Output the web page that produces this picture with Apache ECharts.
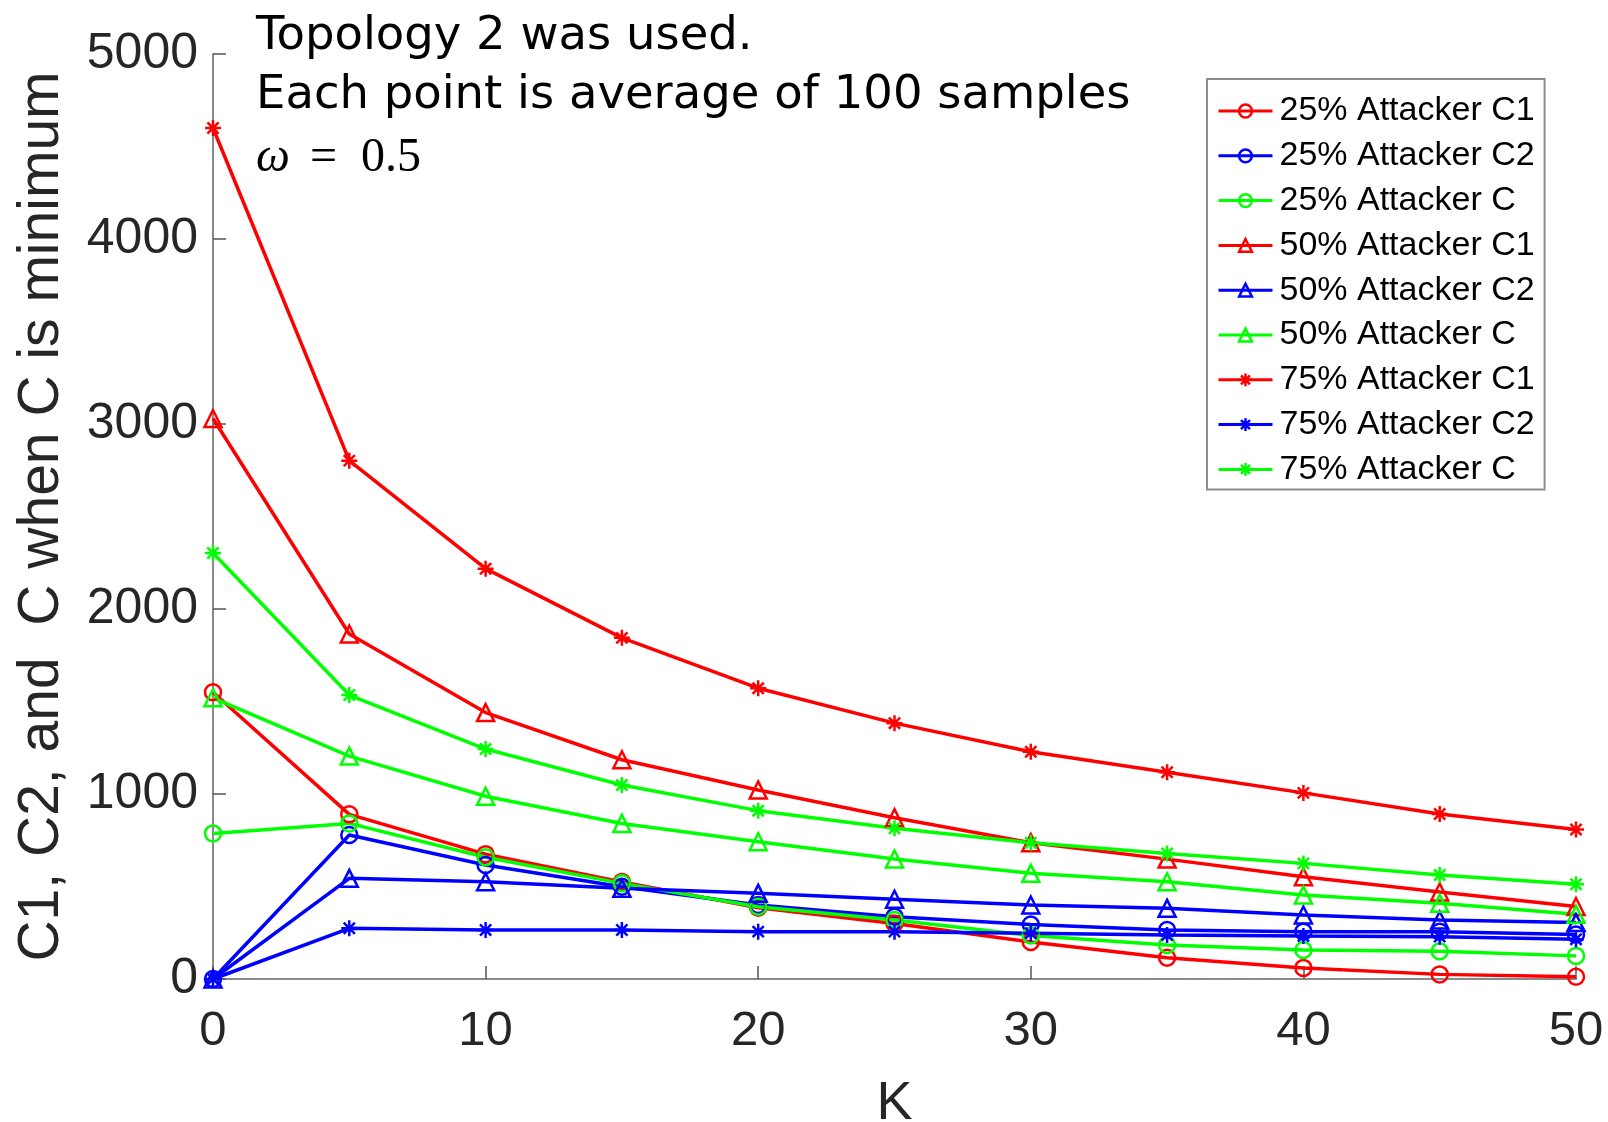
<!DOCTYPE html>
<html>
<head>
<meta charset="utf-8">
<script src="https://cdn.jsdelivr.net/npm/echarts@6/dist/echarts.min.js"></script>
<style>
  html, body { margin: 0; padding: 0; background: #fff; overflow: hidden; }
  #chart { width: 1608px; height: 1122px; }
</style>
</head>
<body>
<div id="chart"></div>
<script>
// K values on the x axis
const kValues = [0, 5, 10, 15, 20, 25, 30, 35, 40, 45, 50];

// Averages of C1, C2 and C at the K where C is minimum
const att25C1 = [1550, 890, 675, 525, 385, 300, 200, 115, 60, 25, 12];
const att25C2 = [0, 778, 616, 499, 400, 337, 295, 265, 256, 256, 240];
const att25C  = [787, 841, 658, 517, 391, 319, 235, 184, 157, 150, 125];
const att50C1 = [3030, 1865, 1440, 1185, 1022, 872, 737, 648, 553, 470, 392];
const att50C2 = [0, 544, 526, 490, 463, 431, 400, 382, 346, 319, 305];
const att50C  = [1520, 1205, 988, 841, 742, 649, 571, 526, 454, 409, 350];
const att75C1 = [4600, 2802, 2218, 1844, 1572, 1383, 1228, 1118, 1006, 892, 808];
const att75C2 = [0, 274, 265, 265, 256, 256, 247, 238, 232, 229, 215];
const att75C  = [2303, 1535, 1243, 1049, 910, 815, 737, 679, 625, 562, 512];

const yTicks = [0, 1000, 2000, 3000, 4000, 5000];
const xTicks = [0, 10, 20, 30, 40, 50];

const seriesNames = [
  '25% Attacker C1', '25% Attacker C2', '25% Attacker C',
  '50% Attacker C1', '50% Attacker C2', '50% Attacker C',
  '75% Attacker C1', '75% Attacker C2', '75% Attacker C'
];
const seriesData = [att25C1, att25C2, att25C, att50C1, att50C2, att50C, att75C1, att75C2, att75C];

const RED = '#ff0000', BLUE = '#0000ff', GREEN = '#00ff00';
const colors = [RED, BLUE, GREEN, RED, BLUE, GREEN, RED, BLUE, GREEN];

// MATLAB-style markers: hollow circle, hollow triangle, asterisk (+ combined with x)
const ASTERISK = 'path://M10,0 L10,20 M0,10 L20,10 M3,3 L17,17 M3,17 L17,3';
const markers = ['circle', 'circle', 'circle', 'triangle', 'triangle', 'triangle', ASTERISK, ASTERISK, ASTERISK];

const chart = echarts.init(document.getElementById('chart'), null, { renderer: 'canvas' });

const series = seriesNames.map((name, i) => ({
  name: name,
  type: 'line',
  data: kValues.map((k, j) => [k, seriesData[i][j]]),
  symbol: markers[i],
  symbolSize: markers[i] === 'triangle' ? 17 : 16,
  showAllSymbol: true,
  clip: false,
  lineStyle: { color: colors[i], width: 3.5 },
  itemStyle: { color: 'rgba(0,0,0,0)', borderColor: colors[i], borderWidth: 2.5 },
  emphasis: { disabled: true },
  animation: false
}));

const AXIS_GRAY = '#8a8a8a';
const LABEL_COLOR = '#262626';

chart.setOption({
  backgroundColor: '#ffffff',
  animation: false,
  grid: { left: 213, right: 32, top: 54, bottom: 143, containLabel: false, outerBoundsMode: 'none' },
  xAxis: {
    type: 'value',
    min: 0, max: 50, interval: 10,
    name: 'K',
    nameLocation: 'middle',
    nameGap: 98,
    nameTextStyle: { fontFamily: 'Liberation Sans', fontSize: 54, color: LABEL_COLOR },
    axisLine: { show: true, lineStyle: { color: AXIS_GRAY, width: 2 } },
    axisTick: { show: true, inside: true, length: 13, lineStyle: { color: '#555', width: 1.5 } },
    axisLabel: {
      fontFamily: 'Liberation Sans', fontSize: 49, color: LABEL_COLOR, margin: 28,
      formatter: v => (xTicks.indexOf(v) >= 0 ? String(v) : '')
    },
    splitLine: { show: false }
  },
  yAxis: {
    type: 'value',
    min: 0, max: 5000, interval: 1000,
    name: 'C1, C2, and  C when C is minimum',
    nameLocation: 'middle',
    nameGap: 142,
    nameTextStyle: { fontFamily: 'Liberation Sans', fontSize: 57, color: LABEL_COLOR },
    axisLine: { show: true, lineStyle: { color: AXIS_GRAY, width: 2 } },
    axisTick: { show: true, inside: true, length: 13, lineStyle: { color: '#555', width: 1.5 } },
    axisLabel: {
      fontFamily: 'Liberation Sans', fontSize: 50, color: LABEL_COLOR, margin: 15,
      formatter: v => (yTicks.indexOf(v) >= 0 ? String(v) : '')
    },
    splitLine: { show: false }
  },
  legend: {
    orient: 'vertical',
    left: 1207,
    top: 79,
    padding: [15, 10, 3, 10],
    itemGap: 10.8,
    itemWidth: 54,
    itemHeight: 16,
    backgroundColor: '#ffffff',
    borderColor: '#8c8c8c',
    borderWidth: 2,
    lineStyle: { width: 3 },
    itemStyle: { borderWidth: 2.5 },
    textStyle: { fontFamily: 'Liberation Sans', fontSize: 34, color: '#000', lineHeight: 33, padding: [0, 0, 0, 2] },
    data: seriesNames
  },
  graphic: [
    {
      type: 'text', x: 256, y: 37, silent: true,
      style: { text: 'Topology 2 was used.', font: '46.5px "DejaVu Sans"', fill: '#000', verticalAlign: 'middle' }
    },
    {
      type: 'text', x: 256, y: 96, silent: true,
      style: { text: 'Each point is average of 100 samples', font: '46.5px "DejaVu Sans"', fill: '#000', verticalAlign: 'middle' }
    },
    {
      type: 'text', x: 256, y: 158, silent: true,
      style: {
        text: '{w|ω}{e|=}{n|0.5}',
        fill: '#000',
        verticalAlign: 'middle',
        rich: {
          w: { fontStyle: 'italic', fontFamily: 'Liberation Serif', fontSize: 48 },
          e: { fontFamily: 'Liberation Serif', fontSize: 48, padding: [0, 24, 0, 20] },
          n: { fontFamily: 'Liberation Serif', fontSize: 48 }
        }
      }
    }
  ],
  series: series
});
</script>
</body>
</html>
